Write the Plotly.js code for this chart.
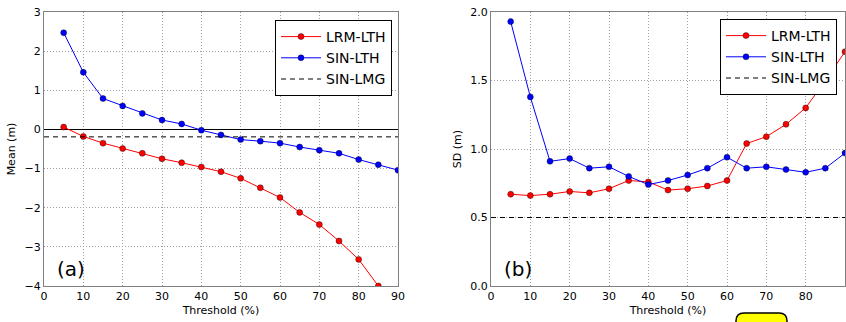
<!DOCTYPE html>
<html>
<head>
<meta charset="utf-8">
<script src="https://cdn.plot.ly/plotly-3.0.1.min.js"></script>
<style>html,body{margin:0;padding:0;background:#fff;}#chart{width:846px;height:322px;}</style>
</head>
<body>
<div id="chart"></div>
<script>
const thresholds = [5,10,15,20,25,30,35,40,45,50,55,60,65,70,75,80,85,90];
const meanLrmLth = [0.06,-0.18,-0.35,-0.49,-0.61,-0.75,-0.85,-0.96,-1.08,-1.25,-1.49,-1.74,-2.12,-2.43,-2.85,-3.32,-4.00,-4.80];
const meanSinLth = [2.47,1.46,0.79,0.60,0.41,0.24,0.14,-0.02,-0.14,-0.26,-0.30,-0.35,-0.45,-0.53,-0.61,-0.77,-0.90,-1.04];
const meanSinLmg = -0.19;
const sdLrmLth = [0.67,0.66,0.67,0.69,0.68,0.71,0.77,0.76,0.70,0.71,0.73,0.77,1.04,1.09,1.18,1.30,1.50,1.71];
const sdSinLth = [1.93,1.38,0.91,0.93,0.86,0.87,0.80,0.74,0.77,0.81,0.86,0.94,0.86,0.87,0.85,0.83,0.86,0.97];
const sdSinLmg = 0.50;
const xRange = [0, 90];
const xTicks = [0,10,20,30,40,50,60,70,80,90];
const meanTicks = [-4,-3,-2,-1,0,1,2,3];
const sdTicks = [0,0.5,1.0,1.5,2.0];

const font = {family: 'DejaVu Sans', size: 11, color: '#000'};
const red = '#ff0000', blue = '#0000ff';

function lineTrace(x, y, color, name, xa, ya, legend) {
  return {x, y, name, xaxis: xa, yaxis: ya, legend, type: 'scatter', mode: 'lines+markers',
    line: {color, width: 1}, marker: {color, size: 6, line: {color: '#000', width: 0.4}}};
}
function hTrace(val, name, xa, ya, legend) {
  return {x: xRange, y: [val, val], name, xaxis: xa, yaxis: ya, legend, type: 'scatter', mode: 'lines',
    line: {color: '#000', width: 1, dash: '5px,4px'}};
}

const traces = [
  lineTrace(thresholds, meanLrmLth, red, 'LRM-LTH', 'x', 'y', 'legend'),
  lineTrace(thresholds, meanSinLth, blue, 'SIN-LTH', 'x', 'y', 'legend'),
  hTrace(meanSinLmg, 'SIN-LMG', 'x', 'y', 'legend'),
  lineTrace(thresholds, sdLrmLth, red, 'LRM-LTH', 'x2', 'y2', 'legend2'),
  lineTrace(thresholds, sdSinLth, blue, 'SIN-LTH', 'x2', 'y2', 'legend2'),
  hTrace(sdSinLmg, 'SIN-LMG', 'x2', 'y2', 'legend2')
];

const axisCommon = {showline: true, linecolor: '#808080', linewidth: 1, mirror: true,
  showgrid: true, gridcolor: '#a0a0a0', griddash: '1px,2px', gridwidth: 1,
  ticks: '', tickfont: font, zeroline: false};

const W = 846;
const legendCommon = {font: {family: 'DejaVu Sans', size: 14, color: '#000'}, bgcolor: '#fff',
  bordercolor: '#000', borderwidth: 1, xanchor: 'right', yanchor: 'top', tracegroupgap: 0, itemwidth: 40};

const r = 8 / W, ry = 8 / 274;
const bx0 = 736 / W, bx1 = 787 / W, by0 = -(313 - 286) / 274, by1 = -(335 - 286) / 274;
const boxPath = `M ${bx0 + r} ${by0} L ${bx1 - r} ${by0} Q ${bx1} ${by0} ${bx1} ${by0 - ry} L ${bx1} ${by1} L ${bx0} ${by1} L ${bx0} ${by0 - ry} Q ${bx0} ${by0} ${bx0 + r} ${by0} Z`;

const layout = {
  width: 846, height: 322,
  margin: {l: 0, r: 0, t: 12, b: 36},
  paper_bgcolor: '#fff', plot_bgcolor: '#fff',
  font: font,
  showlegend: true,
  xaxis: Object.assign({}, axisCommon, {domain: [44 / W, 398 / W], range: xRange, tickvals: xTicks,
    title: {text: 'Threshold (%)', font: font, standoff: 4}}),
  yaxis: Object.assign({}, axisCommon, {domain: [0, 1], range: [-4, 3], tickvals: meanTicks,
    zeroline: true, zerolinecolor: '#000', zerolinewidth: 1,
    title: {text: 'Mean (m)', font: font, standoff: 6}}),
  xaxis2: Object.assign({}, axisCommon, {domain: [491 / W, 845 / W], range: xRange, tickvals: xTicks, anchor: 'y2',
    title: {text: 'Threshold (%)', font: font, standoff: 4}}),
  yaxis2: Object.assign({}, axisCommon, {domain: [0, 1], range: [0, 2], tickvals: sdTicks, tickformat: '.1f', anchor: 'x2',
    title: {text: 'SD (m)', font: font, standoff: 6}}),
  legend: Object.assign({}, legendCommon, {x: 392 / W, y: 1 - (20 - 12) / 274}),
  legend2: Object.assign({}, legendCommon, {x: 837 / W, y: 1 - (19 - 12) / 274}),
  annotations: [
    {text: '(a)', xref: 'x domain', yref: 'y domain', x: 0.03, y: 0.01, xanchor: 'left', yanchor: 'bottom',
      showarrow: false, font: {family: 'DejaVu Sans', size: 20, color: '#000'}},
    {text: '(b)', xref: 'x2 domain', yref: 'y2 domain', x: 0.03, y: 0.01, xanchor: 'left', yanchor: 'bottom',
      showarrow: false, font: {family: 'DejaVu Sans', size: 20, color: '#000'}}
  ],
  shapes: [
    {type: 'path', xref: 'paper', yref: 'paper', path: boxPath, fillcolor: '#ffff00', line: {color: '#000', width: 1.5}, layer: 'above'}
  ]
};

Plotly.newPlot('chart', traces, layout, {displayModeBar: false, staticPlot: true});
</script>
</body>
</html>
